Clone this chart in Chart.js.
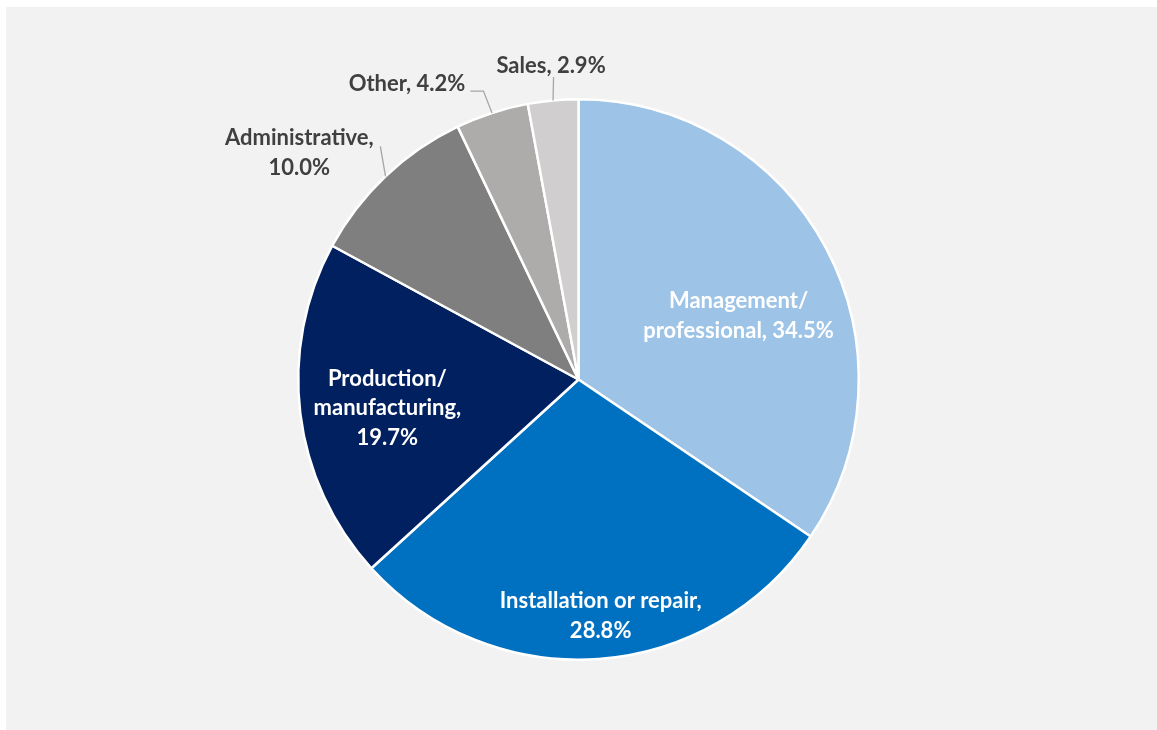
<!DOCTYPE html>
<html>
<head>
<meta charset="utf-8">
<title>Occupations</title>
<script src="https://cdn.jsdelivr.net/npm/chart.js@4"></script>
<style>
  html, body { margin: 0; padding: 0; background: #ffffff; }
  #wrap { width: 1157px; height: 730px; }
</style>
</head>
<body>
<div id="wrap"><canvas id="occupationChart" width="1157" height="730"></canvas></div>
<script>
const categories = ['Management/professional', 'Installation or repair', 'Production/manufacturing', 'Administrative', 'Other', 'Sales'];
const shares = [34.5, 28.8, 19.7, 10.0, 4.2, 2.9];
const sliceColors = ['#9dc3e6', '#0070c0', '#002060', '#7f7f7f', '#aeabab', '#d0cece'];

// where each label sits, in pie radii from the centre, and how it wraps
const labelSpots = [
  { x: 0.571, y: -0.229, color: '#ffffff', wrap: 'slash' },
  { x: 0.079, y: 0.841, color: '#ffffff', wrap: 'value' },
  { x: -0.682, y: 0.100, color: '#ffffff', wrap: 'both' },
  { x: -0.996, y: -0.812, color: '#404040', wrap: 'value', leader: [[-0.707, -0.832]] },
  { x: -0.612, y: -1.057, color: '#404040', wrap: 'none', leader: [[-0.339, -1.029], [-0.386, -1.029]] },
  { x: -0.098, y: -1.121, color: '#404040', wrap: 'none', leader: [[-0.089, -1.079]] }
];

const FONT_SIZE = 22;
const LINE_GAP = 29.5;

function labelLines(name, value, wrap) {
  const pct = value.toFixed(1) + '%';
  const cut = name.indexOf('/');
  if (wrap === 'slash') return [name.slice(0, cut + 1), name.slice(cut + 1) + ', ' + pct];
  if (wrap === 'both') return [name.slice(0, cut + 1), name.slice(cut + 1) + ',', pct];
  if (wrap === 'value') return [name + ',', pct];
  return [name + ', ' + pct];
}

// grey panel behind the pie
const panelPlugin = {
  id: 'panel',
  beforeDraw(chart) {
    const c = chart.ctx;
    c.save();
    c.fillStyle = '#f2f2f2';
    c.fillRect(6, 7, chart.width - 6, chart.height - 7);
    c.restore();
  }
};

// category labels with leader lines for the small slices
const sliceLabels = {
  id: 'sliceLabels',
  afterDatasetsDraw(chart) {
    const c = chart.ctx;
    const arcs = chart.getDatasetMeta(0).data;
    c.save();
    arcs.forEach((arc, i) => {
      const spot = labelSpots[i];
      const R = arc.outerRadius;
      const cx = arc.x, cy = arc.y;
      if (spot.leader) {
        const mid = (arc.startAngle + arc.endAngle) / 2;
        c.beginPath();
        c.moveTo(cx + Math.cos(mid) * R, cy + Math.sin(mid) * R);
        spot.leader.forEach(p => c.lineTo(cx + p[0] * R, cy + p[1] * R));
        c.strokeStyle = '#a6a6a6';
        c.lineWidth = 1.3;
        c.stroke();
      }
      const lines = labelLines(categories[i], shares[i], spot.wrap);
      const lx = cx + spot.x * R;
      const ly = cy + spot.y * R;
      const capHalf = FONT_SIZE * 0.72 / 2;
      c.font = 'bold ' + FONT_SIZE + 'px Lato';
      c.fillStyle = spot.color;
      c.textAlign = 'center';
      c.textBaseline = 'alphabetic';
      lines.forEach((t, k) => {
        const y = ly + (k - (lines.length - 1) / 2) * LINE_GAP + capHalf;
        c.fillText(t, lx, y);
      });
    });
    c.restore();
  }
};

new Chart(document.getElementById('occupationChart'), {
  type: 'pie',
  data: {
    labels: categories,
    datasets: [{
      data: shares,
      backgroundColor: sliceColors,
      borderColor: '#ffffff',
      borderWidth: 2.5,
      hoverOffset: 0
    }]
  },
  options: {
    responsive: false,
    animation: false,
    events: [],
    layout: { padding: { top: 98, bottom: 69, left: 0, right: 0 } },
    plugins: {
      legend: { display: false },
      tooltip: { enabled: false }
    }
  },
  plugins: [panelPlugin, sliceLabels]
});
</script>
</body>
</html>
